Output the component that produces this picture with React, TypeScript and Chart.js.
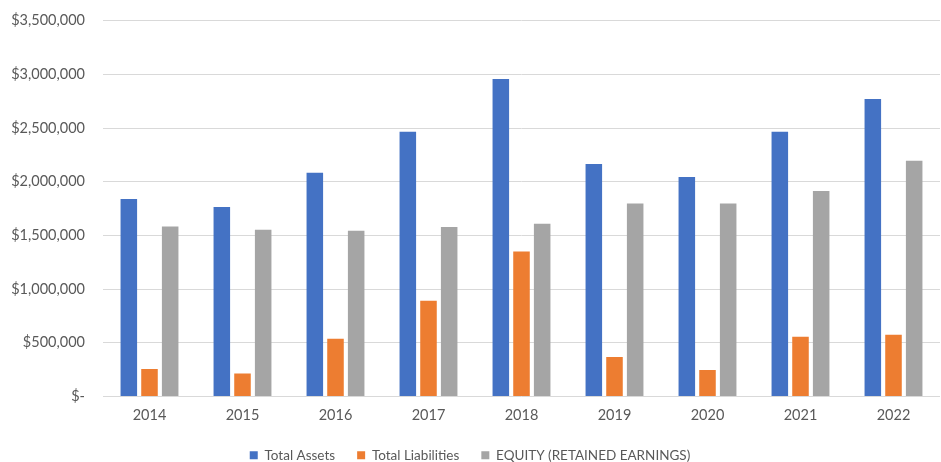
import React, { useEffect, useRef } from "react";
import { Chart, registerables } from "chart.js";

Chart.register(...registerables);

const years = ["2014", "2015", "2016", "2017", "2018", "2019", "2020", "2021", "2022"];
const totalAssets = [1840000, 1765000, 2085000, 2466000, 2957000, 2165000, 2044000, 2466000, 2771000];
const totalLiabilities = [255000, 214000, 537000, 891000, 1351000, 367000, 246000, 556000, 575000];
const equity = [1584000, 1553000, 1544000, 1578000, 1609000, 1798000, 1798000, 1913000, 2196000];
const yTicks = [0, 500000, 1000000, 1500000, 2000000, 2500000, 3000000, 3500000];

const fmt = (v: number) => (v === 0 ? "$-" : "$" + v.toLocaleString("en-US"));

export default function App() {
  const ref = useRef<HTMLCanvasElement>(null);
  useEffect(() => {
    if (!ref.current) return;
    const font = { family: "Lato, 'Open Sans', sans-serif", size: 14.5 };
    const legendFont = { family: "Lato, 'Open Sans', sans-serif", size: 13.5 };
    const chart = new Chart(ref.current, {
      type: "bar",
      data: {
        labels: years,
        datasets: [
          { label: "Total Assets", data: totalAssets, backgroundColor: "#4472C4" },
          { label: "Total Liabilities", data: totalLiabilities, backgroundColor: "#ED7D31" },
          { label: "EQUITY (RETAINED EARNINGS)", data: equity, backgroundColor: "#A5A5A5" },
        ],
      },
      options: {
        animation: false,
        responsive: false,
        maintainAspectRatio: false,
        layout: { padding: { top: 0, right: 1, left: 0, bottom: -10 } },
        datasets: { bar: { categoryPercentage: 0.667, barPercentage: 0.8 } },
        scales: {
          x: {
            grid: { display: false, drawTicks: false },
            border: { display: false },
            ticks: { color: "#595959", font, padding: 10 },
            afterFit: (scale: any) => {
              scale.height = 30;
            },
          },
          y: {
            min: 0,
            max: 3500000,
            afterBuildTicks: (scale: any) => {
              scale.ticks = yTicks.map((v) => ({ value: v }));
            },
            afterFit: (scale: any) => {
              scale.width = 103;
            },
            grid: { color: "#D9D9D9", lineWidth: 1, drawTicks: false },
            border: { display: false },
            ticks: {
              color: "#595959",
              font,
              padding: 18,
              callback: (v: any) => fmt(Number(v)),
            },
          },
        },
        plugins: {
          legend: {
            position: "bottom",
            labels: {
              boxWidth: 8,
              boxHeight: 8,
              color: "#595959",
              font: legendFont,
              padding: 22,
            },
          },
          tooltip: { enabled: false },
        },
      },
    });
    return () => chart.destroy();
  }, []);
  return (
    <div style={{ position: "fixed", left: 0, top: -6, width: 941, height: 468, background: "#fff" }}>
      <canvas ref={ref} width={941} height={468} />
    </div>
  );
}
